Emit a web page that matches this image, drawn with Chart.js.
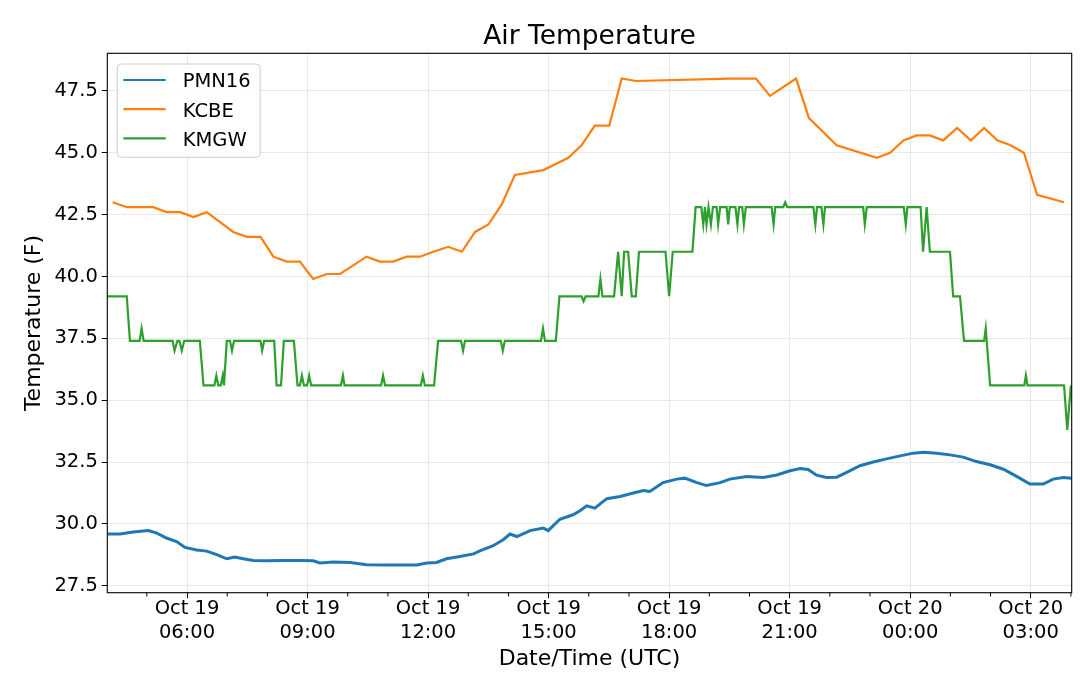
<!DOCTYPE html>
<html><head><meta charset="utf-8">
<script src="https://cdn.jsdelivr.net/npm/chart.js@4.4.1/dist/chart.umd.min.js"></script>
<style>html,body{margin:0;padding:0;background:#fff}#wrap{width:1080px;height:676px;position:relative}</style>
</head><body><div id="wrap"><canvas id="c"></canvas></div>
<script>
// ---- text ----
const chartTitle = 'Air Temperature';
const xAxisTitle = 'Date/Time (UTC)';
const yAxisTitle = 'Temperature (F)';
const seriesNames = ['PMN16', 'KCBE', 'KMGW'];
const seriesColors = ['#1f77b4', '#ff7f0e', '#2ca02c'];

// ---- axes (x in hours since Oct 19 00:00 UTC) ----
const xRange = [4.016, 28.02];
const yRange = [27.22, 49.02];
const xTickHours = [6, 9, 12, 15, 18, 21, 24, 27];
const xTickLabels = [['Oct 19','06:00'],['Oct 19','09:00'],['Oct 19','12:00'],['Oct 19','15:00'],
                     ['Oct 19','18:00'],['Oct 19','21:00'],['Oct 20','00:00'],['Oct 20','03:00']];
const xMinorHours = [5,7,8,10,11,13,14,16,17,19,20,22,23,25,26,28];
const yTickValues = [27.5, 30.0, 32.5, 35.0, 37.5, 40.0, 42.5, 45.0, 47.5];

// ---- PMN16 ----
const pmnTime = [4.02,4.33,4.66,5.04,5.25,5.49,5.74,5.95,6.24,6.49,
  6.74,6.99,7.19,7.40,7.65,7.98,8.40,8.81,9.14,9.31,
  9.64,10.06,10.47,10.89,11.30,11.72,11.97,12.21,12.46,12.79,
  13.13,13.29,13.62,13.87,14.04,14.21,14.54,14.87,14.99,15.28,
  15.61,15.78,15.95,16.15,16.45,16.78,17.11,17.36,17.52,17.85,
  18.19,18.39,18.69,18.93,19.27,19.51,19.93,20.34,20.68,21.01,
  21.26,21.46,21.67,21.92,22.17,22.42,22.75,23.08,23.41,23.75,
  24.08,24.33,24.66,24.99,25.32,25.65,25.99,26.32,26.65,26.98,
  27.31,27.56,27.81,28.02];
const pmnTemp = [29.59,29.59,29.67,29.73,29.63,29.43,29.29,29.05,28.95,28.90,
  28.76,28.59,28.66,28.59,28.52,28.51,28.52,28.52,28.51,28.42,
  28.46,28.44,28.35,28.34,28.34,28.34,28.42,28.44,28.59,28.68,
  28.79,28.91,29.12,29.36,29.59,29.49,29.73,29.83,29.73,30.19,
  30.37,30.53,30.73,30.64,31.02,31.11,31.25,31.35,31.31,31.67,
  31.81,31.85,31.67,31.55,31.67,31.81,31.92,31.88,31.98,32.15,
  32.24,32.20,31.97,31.88,31.89,32.08,32.35,32.50,32.63,32.75,
  32.86,32.90,32.86,32.79,32.70,32.52,32.39,32.21,31.92,31.61,
  31.61,31.81,31.88,31.85];

// ---- KCBE ----
const kcbeTime = [4.15,4.50,5.16,5.49,5.83,6.16,6.49,7.15,7.49,7.83,
  8.15,8.48,8.81,9.14,9.48,9.81,10.47,10.80,11.13,11.47,
  11.80,12.13,12.50,12.84,13.17,13.50,13.83,14.16,14.87,15.49,
  15.82,16.15,16.51,16.82,17.17,19.51,20.16,20.51,21.16,21.48,
  22.17,23.17,23.50,23.83,24.16,24.49,24.82,25.17,25.51,25.84,
  26.17,26.50,26.83,27.16,27.83];
const kcbeTemp = [43.0,42.8,42.8,42.6,42.6,42.4,42.6,41.8,41.6,41.6,
  40.8,40.6,40.6,39.9,40.1,40.1,40.8,40.6,40.6,40.8,
  40.8,41.0,41.2,41.0,41.8,42.1,42.9,44.1,44.3,44.8,
  45.3,46.1,46.1,48.0,47.9,48.0,48.0,47.3,48.0,46.4,
  45.3,44.8,45.0,45.5,45.7,45.7,45.5,46.0,45.5,46.0,
  45.5,45.3,45.0,43.3,43.0];

// ---- KMGW ----
const kmgwTime = [4.02,4.50,4.58,4.82,4.87,4.92,5.64,5.69,5.76,5.81,
  5.87,5.93,6.32,6.41,6.68,6.73,6.78,6.84,6.89,6.92,
  6.99,7.07,7.12,7.17,7.83,7.87,7.92,8.17,8.23,8.34,
  8.41,8.66,8.75,8.81,8.86,8.91,8.99,9.04,9.09,9.83,
  9.88,9.92,10.83,10.88,10.93,11.82,11.87,11.92,12.15,12.25,
  12.82,12.87,12.92,13.81,13.86,13.91,14.81,14.86,14.91,15.18,
  15.27,15.82,15.87,15.92,16.24,16.29,16.34,16.63,16.73,16.82,
  16.88,16.98,17.07,17.17,17.25,17.91,18.00,18.09,18.58,18.66,
  18.80,18.85,18.89,18.93,18.98,19.04,19.09,19.18,19.22,19.27,
  19.43,19.47,19.51,19.65,19.70,19.74,19.82,19.86,19.91,20.55,
  20.60,20.64,20.84,20.89,20.94,21.59,21.64,21.68,21.79,21.84,
  21.88,22.83,22.87,22.92,23.84,23.89,23.93,24.26,24.32,24.41,
  24.49,24.99,25.07,25.24,25.34,25.84,25.88,25.99,26.84,26.88,
  26.92,27.83,27.91,28.00];
const kmgwTemp = [39.2,39.2,37.4,37.4,37.9,37.4,37.4,37.0,37.4,37.4,
  37.0,37.4,37.4,35.6,35.6,36.0,35.6,35.6,36.0,35.6,
  37.4,37.4,37.0,37.4,37.4,37.0,37.4,37.4,35.6,35.6,
  37.4,37.4,35.6,35.6,36.0,35.6,35.6,36.0,35.6,35.6,
  36.0,35.6,35.6,36.0,35.6,35.6,36.0,35.6,35.6,37.4,
  37.4,37.0,37.4,37.4,37.0,37.4,37.4,37.9,37.4,37.4,
  39.2,39.2,39.0,39.2,39.2,39.9,39.2,39.2,41.0,39.2,
  41.0,41.0,39.2,39.2,41.0,41.0,39.2,41.0,41.0,42.8,
  42.8,42.1,42.8,42.1,42.8,42.1,42.8,42.8,42.1,42.8,
  42.8,42.1,42.8,42.8,42.1,42.8,42.8,42.1,42.8,42.8,
  42.1,42.8,42.8,43.0,42.8,42.8,42.1,42.8,42.8,42.1,
  42.8,42.8,42.1,42.8,42.8,42.1,42.8,42.8,41.0,42.8,
  41.0,41.0,39.2,39.2,37.4,37.4,37.9,35.6,35.6,36.0,
  35.6,35.6,33.8,35.6];

const FONT = "'DejaVu Sans', sans-serif";
const pts = (t, v) => t.map((x, i) => ({x: x, y: v[i]}));

const decor = {
  id: 'decor',
  afterDatasetsDraw(chart) {
    const {ctx, chartArea: a, scales: {x}} = chart;
    ctx.save();
    // minor x ticks
    ctx.strokeStyle = '#000';
    ctx.lineWidth = 1;
    xMinorHours.forEach(h => {
      if (h < x.min || h > x.max) return;
      const px = x.getPixelForValue(h);
      ctx.beginPath(); ctx.moveTo(px, a.bottom); ctx.lineTo(px, a.bottom + 3.8); ctx.stroke();
    });
    // spines
    ctx.lineWidth = 1.1;
    ctx.strokeRect(a.left, a.top, a.right - a.left, a.bottom - a.top);
    // title centred over the axes
    ctx.fillStyle = '#000';
    ctx.font = '26.5px ' + FONT;
    ctx.textAlign = 'center';
    ctx.textBaseline = 'alphabetic';
    ctx.fillText(chartTitle, (a.left + a.right) / 2, a.top - 9);
    // legend
    ctx.font = '19.5px ' + FONT;
    ctx.textAlign = 'left';
    const ds = chart.data.datasets;
    const L = a.left + 10, T = a.top + 10.7;
    const textX = L + 65.4;
    const maxW = Math.max(...ds.map(d => ctx.measureText(d.label).width));
    const W = textX + maxW + 9.5 - L, H = 93.3;
    ctx.beginPath();
    ctx.roundRect(L, T, W, H, 4);
    ctx.fillStyle = 'rgba(255,255,255,0.8)';
    ctx.fill();
    ctx.strokeStyle = '#cccccc';
    ctx.lineWidth = 1;
    ctx.stroke();
    ds.forEach((d, i) => {
      const y = T + 16 + i * 29.2;
      ctx.strokeStyle = d.borderColor;
      ctx.lineWidth = 2.2;
      ctx.beginPath(); ctx.moveTo(L + 6, y); ctx.lineTo(L + 48.4, y); ctx.stroke();
      ctx.fillStyle = '#000';
      ctx.fillText(d.label, textX, y + 7.3);
    });
    ctx.restore();
  }
};

const gridOpts = {color: '#e8e8e8', lineWidth: 1, drawTicks: true, tickLength: 5.5, tickColor: '#000', tickWidth: 1};

new Chart(document.getElementById('c'), {
  type: 'line',
  data: {
    datasets: [
      {label: seriesNames[0], data: pts(pmnTime, pmnTemp), borderColor: seriesColors[0], borderWidth: 3, pointRadius: 0, tension: 0},
      {label: seriesNames[1], data: pts(kcbeTime, kcbeTemp), borderColor: seriesColors[1], borderWidth: 2.2, pointRadius: 0, tension: 0},
      {label: seriesNames[2], data: pts(kmgwTime, kmgwTemp), borderColor: seriesColors[2], borderWidth: 2.2, pointRadius: 0, tension: 0}
    ]
  },
  options: {
    responsive: true,
    maintainAspectRatio: false,
    animation: false,
    layout: {padding: {top: 53.3, right: 8.3, left: 0, bottom: 0}},
    plugins: {legend: {display: false}, title: {display: false}, tooltip: {enabled: false}},
    scales: {
      x: {
        type: 'linear', min: xRange[0], max: xRange[1],
        afterBuildTicks: s => { s.ticks = xTickHours.map(v => ({value: v})); },
        afterFit: s => { s.height = 83.3; },
        grid: gridOpts,
        border: {display: false},
        ticks: {autoSkip: false, maxRotation: 0, minRotation: 0, padding: -0.6, color: '#000',
          font: {family: FONT, size: 19.5, lineHeight: 1.2},
          callback: v => { const i = xTickHours.indexOf(v); return i >= 0 ? xTickLabels[i] : ''; }},
        title: {display: true, text: xAxisTitle, color: '#000', font: {family: FONT, size: 22, lineHeight: 1.2}, padding: {top: 0, bottom: 3.1}}
      },
      y: {
        type: 'linear', min: yRange[0], max: yRange[1],
        afterBuildTicks: s => { s.ticks = yTickValues.map(v => ({value: v})); },
        afterFit: s => { s.width = 107.3; },
        grid: gridOpts,
        border: {display: false},
        ticks: {padding: 4, color: '#000', font: {family: FONT, size: 19.5, lineHeight: 1.2},
          callback: v => Number(v).toFixed(1)},
        title: {display: true, text: yAxisTitle, color: '#000', font: {family: FONT, size: 22, lineHeight: 1.2}, padding: {top: 20.7, bottom: 0}}
      }
    }
  },
  plugins: [decor]
});
</script>
</body></html>
